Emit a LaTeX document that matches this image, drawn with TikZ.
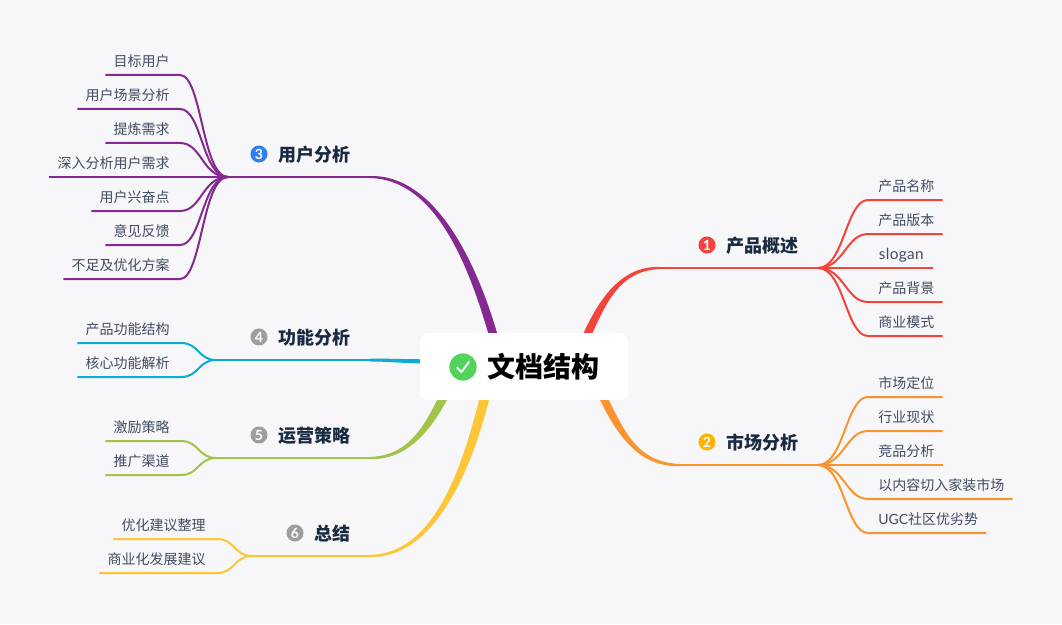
\documentclass[tikz,border=0pt]{standalone}
\usepackage{fontspec}
\setmainfont{Noto Sans CJK SC}
\newfontfamily\latfont{Lato}
\usetikzlibrary{calc,backgrounds}
\definecolor{cbg}{HTML}{F7F7F9}
\definecolor{cred}{HTML}{F4433A}
\definecolor{corange}{HTML}{FB942E}
\definecolor{cpurple}{HTML}{84298F}
\definecolor{cblue}{HTML}{0CABD1}
\definecolor{cgreen}{HTML}{A2C44A}
\definecolor{cyellow}{HTML}{FEC536}
\definecolor{cleaf}{HTML}{414C62}
\definecolor{ctopic}{HTML}{1A2A42}
\definecolor{cicamber}{HTML}{FFB300}
\definecolor{cicblue}{HTML}{2F80ED}
\definecolor{cicgray}{HTML}{9E9E9E}
\definecolor{cicgreen}{HTML}{52D35C}
\tikzset{
  leafbase/.style={inner xsep=6pt,inner ysep=0pt,minimum height=19.5pt,text=cleaf,font=\fontsize{10.5pt}{12pt}\selectfont,text height=8.5pt,text depth=1.5pt},
  leafL/.style={leafbase,anchor=south east},
  leafR/.style={leafbase,anchor=south west},
  topic/.style={inner sep=0pt,text=ctopic,font=\fontsize{13.5pt}{15pt}\selectfont\bfseries,anchor=east},
  icon/.style={circle,inner sep=0pt,minimum size=12.8pt,text=white,font=\fontsize{10.5pt}{10pt}\selectfont\latfont\bfseries},
  conn/.style={line width=1.5pt},
  rootbox/.style={fill=white,rounded corners=6pt,minimum width=156pt,minimum height=50pt,inner sep=0pt},
  rootlabel/.style={inner sep=0pt,text=black,font=\fontsize{21pt}{24pt}\selectfont\bfseries},
}
\newcommand{\taper}[7]{% colour, start, c1, c2, end, dx, dy
  \fill[#1] ($(#2)+(0,-1)$) .. controls ($(#3)+(0,-2.6)$) and ($(#4)+(#6,-#7)$) .. ($(#5)+(#6,-#7)$)
    -- ($(#5)+(-#6,#7)$) .. controls ($(#4)+(-#6,#7)$) and ($(#3)+(0,2.6)$) .. ($(#2)+(0,1)$) -- cycle;}
\newcommand{\limbL}[3]{\draw[conn,#1] (#2.south west) -- (#2.south east) -- ++(2,0) .. controls +(22,0) and +(-26,0) .. (#3);}
\newcommand{\limbR}[3]{\draw[conn,#1] (#2.south east) -- (#2.south west) -- ++(-2,0) .. controls +(-22,0) and +(26,0) .. (#3);}
\newcommand{\limbS}[3]{\draw[conn,#1] (#2.south west) -- (#2.south east) -- ++(3,0) .. controls +(18,0) and +(-18,0) .. (#3);}
\begin{document}
\begin{tikzpicture}[x=0.75pt,y=-0.75pt]
\useasboundingbox (0,0) rectangle (1062,624);
% root
\node[rootbox] (root) at (524,366.5) {};
\node[icon,fill=cicgreen,minimum size=20.5pt] (rooticon) at (463,367) {};
\node[rootlabel] (roottext) at (543,366.5) {文档结构};
\draw[white,line width=1.4pt,line cap=round,line join=round]
  ($(rooticon)+(-6,0.5)$) -- ($(rooticon)+(-1.5,5)$) -- ($(rooticon)+(6,-5)$);
% topic labels
\node[icon,fill=cred] (i1) at (707,245) {1};
\node[topic] (t1) at (799,245.5) {产品概述};
\node[icon,fill=cicamber] (i2) at (707,442) {2};
\node[topic] (t2) at (799,442.5) {市场分析};
\node[icon,fill=cicblue] (i3) at (259,154) {3};
\node[topic] (t3) at (351,154.5) {用户分析};
\node[icon,fill=cicgray] (i4) at (259,337) {4};
\node[topic] (t4) at (351,337.5) {功能分析};
\node[icon,fill=cicgray] (i5) at (259,435) {5};
\node[topic] (t5) at (351,435.5) {运营策略};
\node[icon,fill=cicgray] (i6) at (295,533) {6};
\node[topic] (t6) at (351,533.5) {总结};
% hubs
\coordinate (h1) at (818,268); \coordinate (s1) at (660,268);
\coordinate (h2) at (818,465); \coordinate (s2) at (680,465);
\coordinate (h3) at (228,177); \coordinate (s3) at (370,177);
\coordinate (h4) at (216,360); \coordinate (s4) at (370,360);
\coordinate (h5) at (216,458); \coordinate (s5) at (370,458);
\coordinate (h6) at (252,556); \coordinate (s6) at (370,556);
% leaves
\node[leafR] (a1) at (870,200) {产品名称};
\node[leafR] (a2) at (870,234) {产品版本};
\node[leafR,minimum width=46.5pt] (a3) at (870,268) {\latfont\fontsize{11.5pt}{12pt}\selectfont\addfontfeature{LetterSpace=2.5}slogan};
\node[leafR] (a4) at (870,302) {产品背景};
\node[leafR] (a5) at (870,336) {商业模式};
\node[leafR] (b1) at (870,397) {市场定位};
\node[leafR] (b2) at (870,431) {行业现状};
\node[leafR] (b3) at (870,465) {竞品分析};
\node[leafR] (b4) at (870,499) {以内容切入家装市场};
\node[leafR] (b5) at (870,533) {{\latfont UGC}社区优劣势};
\node[leafL] (c1) at (178,75) {目标用户};
\node[leafL] (c2) at (178,109) {用户场景分析};
\node[leafL] (c3) at (178,143) {提炼需求};
\node[leafL] (c4) at (178,177) {深入分析用户需求};
\node[leafL] (c5) at (178,211) {用户兴奋点};
\node[leafL] (c6) at (178,245) {意见反馈};
\node[leafL] (c7) at (178,279) {不足及优化方案};
\node[leafL] (d1) at (178,343) {产品功能结构};
\node[leafL] (d2) at (178,377) {核心功能解析};
\node[leafL] (e1) at (178,441) {激励策略};
\node[leafL] (e2) at (178,475) {推广渠道};
\node[leafL] (f1) at (214,539) {优化建议整理};
\node[leafL] (f2) at (214,573) {商业化发展建议};
% connectors
\begin{scope}[on background layer]
\fill[cbg] (0,0) rectangle (1062,624);
\coordinate (e1r) at ($(root.center)+(61,-26.5)$);
\coordinate (e2r) at ($(root.center)+(76,23.5)$);
\coordinate (e3r) at ($(root.center)+(-28,-21.5)$);
\coordinate (e4r) at ($(root.center)+(-98,-5)$);
\coordinate (e5r) at ($(root.center)+(-77,23.5)$);
\coordinate (e6r) at ($(root.center)+(-38,25.5)$);
\taper{cred}{s1}{622,268}{603,298}{e1r}{-4.5}{0}
\taper{corange}{s2}{642,465}{622,440}{e2r}{4.5}{0}
\taper{cpurple}{s3}{430,177}{470,250}{e3r}{4.5}{0}
\fill[cblue] ($(s4)+(0,-1.5)$) .. controls ($(s4)+(20,-1.5)$) and ($(e4r)+(-25,-2.2)$) .. ($(e4r)+(6,-2.2)$)
  -- ($(e4r)+(6,2.2)$) .. controls ($(e4r)+(-25,1.8)$) and ($(s4)+(20,1.5)$) .. ($(s4)+(0,1.5)$) -- cycle;
\taper{cgreen}{s5}{410,458}{430,425}{e5r}{-5}{0}
\taper{cyellow}{s6}{430,556}{465,480}{e6r}{-5}{0}
\draw[conn,cred] (s1) -- (h1);
\draw[conn,corange] (s2) -- (h2);
\draw[conn,cpurple] (s3) -- (h3);
\draw[conn,cblue] (s4) -- (h4);
\draw[conn,cgreen] (s5) -- (h5);
\draw[conn,cyellow] (s6) -- (h6);
\foreach \n in {a1,a2,a3,a4,a5} {\limbR{cred}{\n}{h1}}
\foreach \n in {b1,b2,b3,b4,b5} {\limbR{corange}{\n}{h2}}
\foreach \n in {c1,c2,c3,c4,c5,c6,c7} {\limbL{cpurple}{\n}{h3}}
\foreach \n in {d1,d2} {\limbS{cblue}{\n}{h4}}
\foreach \n in {e1,e2} {\limbS{cgreen}{\n}{h5}}
\foreach \n in {f1,f2} {\limbS{cyellow}{\n}{h6}}
\end{scope}
\end{tikzpicture}
\end{document}
